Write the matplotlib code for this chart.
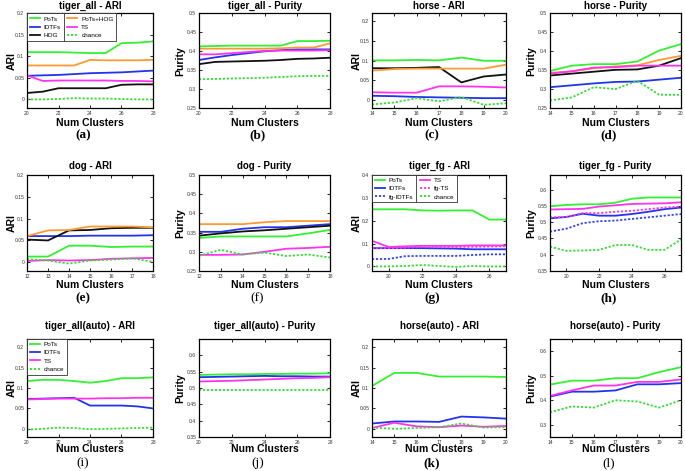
"""
Clustering results (ARI / Purity vs number of clusters), 3x4 panel grid.
"""

import matplotlib
matplotlib.use("Agg")
import matplotlib.pyplot as plt
from matplotlib.lines import Line2D
from matplotlib.ticker import FormatStrFormatter

plt.rcParams["font.family"] = ["Liberation Sans", "DejaVu Sans"]

# ---- x values (number of clusters) ----
x_tiger_all = [20, 21, 22, 23, 24, 25, 26, 27, 28]
x_horse = [14, 15, 16, 17, 18, 19, 20]
x_dog = [12, 13, 14, 15, 16, 17, 18]
x_tiger_fg = [19, 20, 21, 22, 23, 24, 25, 26, 27]

# ---- (a) tiger_all - ARI ----
ta_ari_pots = [0.110, 0.110, 0.110, 0.109, 0.108, 0.108, 0.131, 0.132, 0.135]
ta_ari_idtf = [0.055, 0.056, 0.057, 0.059, 0.061, 0.062, 0.063, 0.065, 0.067]
ta_ari_hog = [0.015, 0.018, 0.026, 0.026, 0.026, 0.026, 0.034, 0.035, 0.035]
ta_ari_poth = [0.079, 0.079, 0.079, 0.079, 0.092, 0.091, 0.091, 0.091, 0.092]
ta_ari_ts = [0.056, 0.043, 0.044, 0.044, 0.044, 0.044, 0.043, 0.043, 0.042]
ta_ari_chance = [0.000, 0.000, 0.001, 0.003, 0.002, 0.002, 0.001, 0.000, 0.000]

# ---- (b) tiger_all - Purity ----
ta_pur_pots = [0.413, 0.414, 0.415, 0.415, 0.415, 0.415, 0.427, 0.427, 0.428]
ta_pur_idtf = [0.377, 0.384, 0.390, 0.395, 0.400, 0.403, 0.405, 0.405, 0.405]
ta_pur_hog = [0.366, 0.372, 0.373, 0.374, 0.375, 0.377, 0.380, 0.381, 0.383]
ta_pur_poth = [0.407, 0.407, 0.407, 0.407, 0.407, 0.408, 0.410, 0.410, 0.421]
ta_pur_ts = [0.392, 0.392, 0.395, 0.398, 0.401, 0.402, 0.402, 0.402, 0.403]
ta_pur_chance = [0.326, 0.327, 0.328, 0.329, 0.330, 0.332, 0.334, 0.335, 0.335]

# ---- (c) horse - ARI ----
ho_ari_pots = [0.101, 0.101, 0.102, 0.101, 0.108, 0.100, 0.100]
ho_ari_idtf = [0.011, 0.010, 0.008, 0.007, 0.006, 0.005, 0.005]
ho_ari_hog = [0.081, 0.081, 0.082, 0.084, 0.045, 0.060, 0.065]
ho_ari_poth = [0.075, 0.079, 0.080, 0.080, 0.080, 0.080, 0.090]
ho_ari_ts = [0.020, 0.019, 0.019, 0.035, 0.035, 0.034, 0.032]
ho_ari_chance = [-0.011, -0.006, 0.005, -0.003, 0.008, -0.012, -0.008]

# ---- (d) horse - Purity ----
ho_pur_pots = [0.348, 0.362, 0.366, 0.366, 0.373, 0.402, 0.419]
ho_pur_idtf = [0.305, 0.310, 0.315, 0.319, 0.320, 0.325, 0.330]
ho_pur_hog = [0.336, 0.341, 0.346, 0.351, 0.352, 0.362, 0.382]
ho_pur_poth = [0.343, 0.347, 0.355, 0.360, 0.363, 0.377, 0.388]
ho_pur_ts = [0.341, 0.347, 0.357, 0.358, 0.362, 0.362, 0.362]
ho_pur_chance = [0.270, 0.278, 0.305, 0.300, 0.322, 0.285, 0.285]

# ---- (e) dog - ARI ----
dg_ari_pots = [0.013, 0.013, 0.038, 0.038, 0.035, 0.036, 0.036]
dg_ari_idtf = [0.060, 0.060, 0.060, 0.061, 0.061, 0.061, 0.062]
dg_ari_hog = [0.052, 0.050, 0.073, 0.074, 0.078, 0.079, 0.079]
dg_ari_poth = [0.060, 0.073, 0.074, 0.082, 0.082, 0.082, 0.080]
dg_ari_ts = [0.003, 0.005, 0.004, 0.005, 0.008, 0.009, 0.010]
dg_ari_chance = [0.007, 0.004, -0.003, 0.004, 0.006, 0.009, 0.001]

# ---- (f) dog - Purity ----
dg_pur_pots = [0.336, 0.340, 0.340, 0.340, 0.340, 0.348, 0.357]
dg_pur_idtf = [0.352, 0.352, 0.360, 0.364, 0.364, 0.368, 0.372]
dg_pur_hog = [0.342, 0.348, 0.353, 0.356, 0.360, 0.364, 0.368]
dg_pur_poth = [0.372, 0.372, 0.372, 0.377, 0.380, 0.380, 0.380]
dg_pur_ts = [0.292, 0.292, 0.293, 0.300, 0.308, 0.310, 0.313]
dg_pur_chance = [0.290, 0.305, 0.293, 0.298, 0.289, 0.293, 0.285]

# ---- (g) tiger_fg - ARI ----
tf_ari_pots = [0.250, 0.250, 0.250, 0.245, 0.244, 0.245, 0.245, 0.205, 0.205]
tf_ari_idtf = [0.080, 0.080, 0.080, 0.080, 0.079, 0.078, 0.075, 0.075, 0.075]
tf_ari_fgidtf = [0.032, 0.033, 0.045, 0.046, 0.046, 0.046, 0.050, 0.053, 0.053]
tf_ari_ts = [0.112, 0.085, 0.088, 0.090, 0.090, 0.090, 0.092, 0.092, 0.092]
tf_ari_fgts = [0.080, 0.080, 0.082, 0.085, 0.085, 0.085, 0.086, 0.087, 0.088]
tf_ari_chance = [0.000, 0.000, 0.002, 0.006, 0.002, -0.002, 0.002, 0.000, 0.000]

# ---- (h) tiger_fg - Purity ----
tf_pur_pots = [0.549, 0.553, 0.555, 0.555, 0.560, 0.572, 0.576, 0.576, 0.576]
tf_pur_idtf = [0.512, 0.516, 0.526, 0.520, 0.520, 0.525, 0.532, 0.540, 0.545]
tf_pur_fgidtf = [0.471, 0.480, 0.497, 0.503, 0.505, 0.510, 0.515, 0.520, 0.525]
tf_pur_ts = [0.539, 0.540, 0.541, 0.548, 0.552, 0.556, 0.557, 0.558, 0.561]
tf_pur_fgts = [0.515, 0.516, 0.528, 0.528, 0.532, 0.535, 0.540, 0.545, 0.548]
tf_pur_chance = [0.425, 0.412, 0.413, 0.415, 0.430, 0.430, 0.415, 0.415, 0.447]

# ---- (i) tiger_all(auto) - ARI ----
tau_ari_pots = [0.117, 0.120, 0.120, 0.117, 0.113, 0.117, 0.124, 0.124, 0.126]
tau_ari_idtf = [0.073, 0.074, 0.075, 0.076, 0.057, 0.057, 0.057, 0.055, 0.050]
tau_ari_ts = [0.072, 0.073, 0.074, 0.074, 0.074, 0.075, 0.075, 0.076, 0.076]
tau_ari_chance = [-0.002, 0.000, 0.003, 0.002, -0.001, 0.000, 0.001, 0.002, 0.003]

# ---- (j) tiger_all(auto) - Purity ----
tau_pur_pots = [0.540, 0.541, 0.542, 0.542, 0.543, 0.543, 0.544, 0.544, 0.545]
tau_pur_idtf = [0.533, 0.534, 0.535, 0.536, 0.537, 0.536, 0.536, 0.535, 0.535]
tau_pur_ts = [0.520, 0.521, 0.522, 0.524, 0.526, 0.528, 0.530, 0.531, 0.533]
tau_pur_chance = [0.495, 0.495, 0.495, 0.495, 0.495, 0.495, 0.495, 0.495, 0.495]

# ---- (k) horse(auto) - ARI ----
hau_ari_pots = [0.105, 0.137, 0.137, 0.128, 0.128, 0.128, 0.127]
hau_ari_idtf = [0.013, 0.018, 0.018, 0.017, 0.030, 0.028, 0.025]
hau_ari_ts = [0.002, 0.015, 0.006, 0.004, 0.008, 0.005, 0.007]
hau_ari_chance = [0.003, 0.000, 0.002, 0.004, 0.013, 0.003, 0.004]

# ---- (l) horse(auto) - Purity ----
hau_pur_pots = [0.464, 0.480, 0.480, 0.490, 0.490, 0.515, 0.535]
hau_pur_idtf = [0.415, 0.435, 0.435, 0.440, 0.465, 0.465, 0.470]
hau_pur_ts = [0.418, 0.440, 0.460, 0.460, 0.475, 0.475, 0.485]
hau_pur_chance = [0.351, 0.375, 0.370, 0.400, 0.395, 0.370, 0.400]

STYLE = {
    "PoTs": dict(color="#33f033", ls="-"),
    "PoTs+HOG": dict(color="#ff9933", ls="-"),
    "IDTFs": dict(color="#2233ee", ls="-"),
    "TS": dict(color="#ff33ee", ls="-"),
    "HOG": dict(color="#111111", ls="-"),
    "fg-IDTFs": dict(color="#3344ee", ls=(0, (1.2, 1.0))),
    "fg-TS": dict(color="#ff33ee", ls=(0, (1.2, 1.0))),
    "chance": dict(color="#33dd33", ls=(0, (1.2, 1.0))),
}

W, H = 685, 471
COLS = [(27, 153), (199, 330), (372, 506), (550, 681)]
ROWS = [(13.5, 108), (175, 271), (339, 437)]
TITLE_PAD = [3.5, 4.5, 7.5]
XLAB_OFF = [15, 14, 12]      # px below axes bottom (centre of label)
LETTER_Y = [135, 298, 463]

ari5 = [0, 0.05, 0.1, 0.15, 0.2]
pur_lo = [0.25, 0.3, 0.35, 0.4, 0.45, 0.5]
pur_hi = [0.35, 0.4, 0.45, 0.5, 0.55, 0.6]

panels = [
    # row, col, title, ylabel, x, series, xlim, ylim, xticks, yticks, legend, letter, bold letter
    (0, 0, "tiger_all - ARI", "ARI", x_tiger_all,
     [("PoTs", ta_ari_pots), ("IDTFs", ta_ari_idtf), ("HOG", ta_ari_hog),
      ("PoTs+HOG", ta_ari_poth), ("TS", ta_ari_ts), ("chance", ta_ari_chance)],
     (20, 28), (-0.02, 0.2), [20, 22, 24, 26, 28], ari5, 2, "(a)", True),
    (0, 1, "tiger_all - Purity", "Purity", x_tiger_all,
     [("PoTs", ta_pur_pots), ("IDTFs", ta_pur_idtf), ("HOG", ta_pur_hog),
      ("PoTs+HOG", ta_pur_poth), ("TS", ta_pur_ts), ("chance", ta_pur_chance)],
     (20, 28), (0.25, 0.5), [20, 22, 24, 26, 28], pur_lo, 0, "(b)", True),
    (0, 2, "horse - ARI", "ARI", x_horse,
     [("PoTs", ho_ari_pots), ("IDTFs", ho_ari_idtf), ("HOG", ho_ari_hog),
      ("PoTs+HOG", ho_ari_poth), ("TS", ho_ari_ts), ("chance", ho_ari_chance)],
     (14, 20), (-0.02, 0.22), x_horse, ari5, 0, "(c)", True),
    (0, 3, "horse - Purity", "Purity", x_horse,
     [("PoTs", ho_pur_pots), ("IDTFs", ho_pur_idtf), ("HOG", ho_pur_hog),
      ("PoTs+HOG", ho_pur_poth), ("TS", ho_pur_ts), ("chance", ho_pur_chance)],
     (14, 20), (0.25, 0.5), x_horse, pur_lo, 0, "(d)", True),
    (1, 0, "dog - ARI", "ARI", x_dog,
     [("PoTs", dg_ari_pots), ("IDTFs", dg_ari_idtf), ("HOG", dg_ari_hog),
      ("PoTs+HOG", dg_ari_poth), ("TS", dg_ari_ts), ("chance", dg_ari_chance)],
     (12, 18), (-0.02, 0.2), x_dog, ari5, 0, "(e)", True),
    (1, 1, "dog - Purity", "Purity", x_dog,
     [("PoTs", dg_pur_pots), ("IDTFs", dg_pur_idtf), ("HOG", dg_pur_hog),
      ("PoTs+HOG", dg_pur_poth), ("TS", dg_pur_ts), ("chance", dg_pur_chance)],
     (12, 18), (0.25, 0.5), x_dog, pur_lo, 0, "(f)", False),
    (1, 2, "tiger_fg - ARI", "ARI", x_tiger_fg,
     [("PoTs", tf_ari_pots), ("IDTFs", tf_ari_idtf), ("fg-IDTFs", tf_ari_fgidtf),
      ("TS", tf_ari_ts), ("fg-TS", tf_ari_fgts), ("chance", tf_ari_chance)],
     (19, 27), (-0.02, 0.4), [20, 22, 24, 26], [0, 0.1, 0.2, 0.3, 0.4], 2, "(g)", True),
    (1, 3, "tiger_fg - Purity", "Purity", x_tiger_fg,
     [("PoTs", tf_pur_pots), ("IDTFs", tf_pur_idtf), ("fg-IDTFs", tf_pur_fgidtf),
      ("TS", tf_pur_ts), ("fg-TS", tf_pur_fgts), ("chance", tf_pur_chance)],
     (19, 27), (0.35, 0.645), [20, 22, 24, 26], pur_hi, 0, "(h)", True),
    (2, 0, "tiger_all(auto) - ARI", "ARI", x_tiger_all,
     [("PoTs", tau_ari_pots), ("IDTFs", tau_ari_idtf), ("TS", tau_ari_ts),
      ("chance", tau_ari_chance)],
     (20, 28), (-0.02, 0.22), [20, 22, 24, 26, 28], ari5, 1, "(i)", False),
    (2, 1, "tiger_all(auto) - Purity", "Purity", x_tiger_all,
     [("PoTs", tau_pur_pots), ("IDTFs", tau_pur_idtf), ("TS", tau_pur_ts),
      ("chance", tau_pur_chance)],
     (20, 28), (0.35, 0.65), [20, 22, 24, 26, 28], pur_hi, 0, "(j)", False),
    (2, 2, "horse(auto) - ARI", "ARI", x_horse,
     [("PoTs", hau_ari_pots), ("IDTFs", hau_ari_idtf), ("TS", hau_ari_ts),
      ("chance", hau_ari_chance)],
     (14, 20), (-0.02, 0.22), x_horse, ari5, 0, "(k)", True),
    (2, 3, "horse(auto) - Purity", "Purity", x_horse,
     [("PoTs", hau_pur_pots), ("IDTFs", hau_pur_idtf), ("TS", hau_pur_ts),
      ("chance", hau_pur_chance)],
     (14, 20), (0.25, 0.65), x_horse, [0.3, 0.4, 0.5, 0.6], 0, "(l)", False),
]

LEG_FS = 4.6
LEG_HL = 1.6
LEG_TP = 0.6


def main():
    fig = plt.figure(figsize=(W / 100, H / 100), dpi=100)
    legends = []
    for (r, c, title, ylab, x, series, xlim, ylim, xticks, yticks,
         leg_cols, letter, letter_bold) in panels:
        left, right = COLS[c]
        top, bottom = ROWS[r]
        ax = fig.add_axes([left / W, 1 - bottom / H, (right - left) / W, (bottom - top) / H])
        for name, vals in series:
            st = STYLE[name]
            ax.plot(x, vals, color=st["color"], linestyle=st["ls"], lw=1.3, label=name)
        ax.set_xlim(*xlim)
        ax.set_ylim(*ylim)
        ax.set_xticks(xticks)
        ax.set_yticks(yticks)
        ax.yaxis.set_major_formatter(FormatStrFormatter("%g"))
        ax.tick_params(direction="in", length=2, width=0.6, labelsize=3.6,
                       labelcolor="#333333", top=True, right=True, pad=2)
        for sp in ax.spines.values():
            sp.set_linewidth(0.9)
        ax.set_title(title, fontsize=7, fontweight="bold", pad=TITLE_PAD[r])
        ax.set_xlabel("Num Clusters", fontsize=7.5, fontweight="bold", va="center")
        ax.xaxis.set_label_coords(0.5, -XLAB_OFF[r] / (bottom - top))
        ax.set_ylabel(ylab, fontsize=7.5, fontweight="bold", va="center")
        yl_off = 15 if ylab == "ARI" else 19
        ax.yaxis.set_label_coords(-yl_off / (right - left), 0.5)
        fig.text((left + right) / 2 / W - 7 / W, 1 - LETTER_Y[r] / H, letter,
                 family=["Liberation Serif", "DejaVu Serif"], fontsize=9.5,
                 fontweight="bold" if letter_bold else "normal",
                 ha="center", va="center")
        if leg_cols:
            leg = ax.legend(loc="upper left", ncol=leg_cols, fontsize=LEG_FS,
                            frameon=True, fancybox=False, framealpha=1,
                            edgecolor="#333333", borderaxespad=0.0, borderpad=0.4,
                            handlelength=LEG_HL, handletextpad=LEG_TP,
                            columnspacing=1.0, labelspacing=0.45)
            leg.get_frame().set_linewidth(0.6)
            if leg_cols == 2:
                legends.append(leg)

    # vertical divider between legend columns (MATLAB column legend look)
    fig.canvas.draw()
    renderer = fig.canvas.get_renderer()
    for leg in legends:
        texts = leg.get_texts()
        n1 = (len(texts) + 1) // 2
        col1_right = max(t.get_window_extent(renderer).x1 for t in texts[:n1])
        col2_left = min(t.get_window_extent(renderer).x0 for t in texts[n1:])
        handle_px = (LEG_HL + LEG_TP) * LEG_FS * fig.dpi / 72
        x_div = (col1_right + col2_left - handle_px) / 2
        bb = leg.get_window_extent(renderer)
        fig.add_artist(Line2D([x_div / W, x_div / W], [bb.y0 / H, bb.y1 / H],
                              transform=fig.transFigure, color="#333333", lw=0.6))

    fig.savefig("out.png", dpi=100)


if __name__ == "__main__":
    main()
